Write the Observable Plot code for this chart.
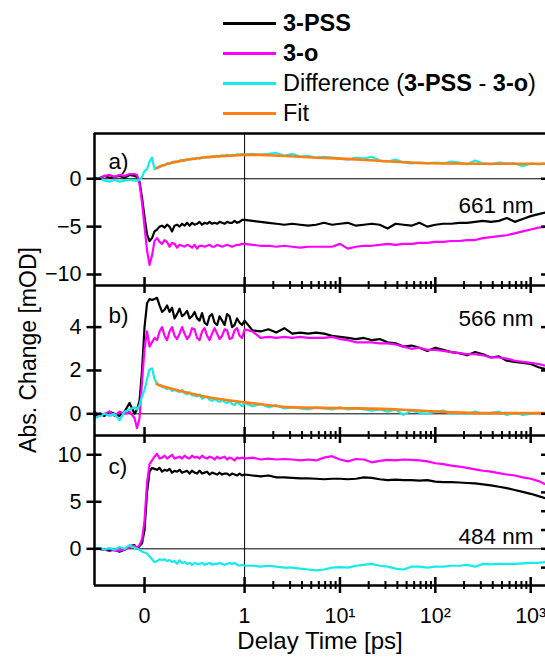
<!DOCTYPE html>
<html><head><meta charset="utf-8">
<script src="https://cdn.jsdelivr.net/npm/d3@7"></script>
<script src="https://cdn.jsdelivr.net/npm/@observablehq/plot@0.6"></script>
<style>
html,body{margin:0;padding:0;background:#fff;overflow:hidden}
#root{position:relative;width:545px;height:662px;overflow:hidden;font-family:"Liberation Sans",Arial,sans-serif;color:#000;background:#fff}
.row{position:absolute;left:223px;display:flex;align-items:center;height:30px;white-space:nowrap;font-size:23.5px}
.sw{width:53px;height:3px;margin-right:7px}
.panel{position:absolute;left:0}
#ylab{position:absolute;left:27.5px;top:350px;transform:translate(-50%,-50%) rotate(-90deg);font-size:23px;white-space:nowrap;line-height:1}
</style></head><body><div id="root"></div>
<script>
// ---------- data ----------
const linTimes = [-0.5,-0.45,-0.4,-0.35,-0.3,-0.25,-0.2,-0.15,-0.1,-0.075,-0.05,-0.025,0,0.025,0.05,0.075,0.1,0.125,0.15,0.175,0.2,0.225,0.25,0.275,0.3,0.325,0.35,0.375,0.4,0.425,0.45,0.475,0.5,0.525,0.55,0.575,0.6,0.625,0.65,0.675,0.7,0.725,0.75,0.775,0.8,0.825,0.85,0.875,0.9,0.925,0.95,0.975,1.0];
const logTimes = [1.21,1.47,1.78,2.15,2.61,3.16,3.83,4.64,5.62,6.81,8.25,10,12.1,14.7,17.8,21.5,26.1,31.6,38.3,46.4,56.2,68.1,82.5,100,121,147,178,215,261,316,383,464,562,681,825,1000,1210,1470,1780];

const a_pss = [0.1,0.0,0.3,0.1,0.2,0.3,0.1,0.4,0.3,0.2,-0.3,-2.0,-4.0,-5.8,-6.5,-6.2,-5.5,-5.3,-5.0,-4.9,-5.1,-4.8,-5.0,-5.5,-4.9,-4.8,-5.0,-4.7,-4.9,-4.6,-4.9,-4.6,-4.8,-4.7,-4.5,-4.8,-4.6,-4.7,-4.5,-4.7,-4.6,-4.7,-4.5,-4.6,-4.7,-4.5,-4.6,-4.6,-4.4,-4.6,-4.5,-4.3,-4.3,
  -4.4,-4.5,-4.6,-4.7,-4.8,-4.7,-4.8,-4.9,-4.8,-4.6,-4.8,-4.7,-4.6,-4.9,-4.8,-4.7,-4.8,-5.2,-4.7,-4.8,-4.9,-4.6,-5.0,-4.8,-4.7,-4.7,-4.6,-4.6,-4.5,-4.4,-4.5,-4.4,-4.1,-4.5,-4.2,-3.9,-3.7,-3.5,-3.4];
const a_o = [0.0,0.1,0.3,0.4,0.2,0.4,0.3,0.5,0.5,0.4,-0.5,-2.5,-5.0,-7.5,-9.0,-8.0,-6.5,-6.2,-6.6,-6.8,-6.4,-6.6,-7.1,-6.7,-6.8,-7.2,-6.9,-7.0,-7.1,-6.9,-7.0,-7.2,-6.9,-7.3,-7.0,-7.0,-7.1,-7.0,-6.9,-7.1,-7.1,-6.9,-7.0,-7.1,-7.0,-6.9,-7.0,-7.1,-7.0,-6.9,-6.9,-6.8,-6.8,
  -6.9,-7.0,-7.0,-7.1,-7.0,-7.1,-7.2,-7.1,-7.1,-7.1,-7.1,-6.8,-7.3,-7.1,-7.0,-7.0,-6.9,-6.8,-6.9,-6.8,-6.8,-6.7,-6.7,-6.6,-6.6,-6.5,-6.5,-6.4,-6.4,-6.2,-6.1,-6.0,-5.9,-5.7,-5.5,-5.3,-5.1,-5.0,-4.9];
const a_diff = [-0.1,0.1,-0.2,-0.3,-0.1,-0.3,-0.2,-0.1,-0.2,-0.2,-0.1,0.2,0.8,1.0,1.8,2.2,1.0,1.15,1.3,1.4,1.4,1.6,1.55,1.75,1.8,1.75,1.9,1.95,1.9,2.05,2.0,2.1,2.05,2.2,2.1,2.25,2.2,2.3,2.25,2.35,2.3,2.4,2.3,2.45,2.4,2.5,2.4,2.5,2.45,2.55,2.5,2.6,2.5,
  2.6,2.5,2.6,2.7,2.4,2.6,2.3,2.4,2.2,2.3,2.2,2.1,2.0,2.2,2.1,2.3,1.9,1.8,2.0,1.7,1.6,1.7,1.6,1.7,1.6,1.8,1.7,1.5,1.9,1.6,1.5,1.7,1.6,1.6,1.3,1.6,1.5,1.6,1.6];
const a_fitTimes = [0.12,0.2,0.3,0.4,0.5,0.6,0.8,1.0,1.5,2.4,5.2,12,27,59,133,300,700,1800];
const a_fit = [1.1,1.45,1.73,1.95,2.1,2.22,2.38,2.5,2.5,2.4,2.22,2.08,1.85,1.68,1.6,1.57,1.57,1.57];

const b_pss = [-0.1,0.0,-0.1,0.1,0.0,-0.1,0.1,0.5,0.0,0.2,0.6,2.0,4.0,5.1,5.3,5.25,5.3,5.35,5.0,4.7,4.8,5.0,4.7,4.9,4.4,4.6,4.85,4.5,4.6,4.75,4.4,4.5,4.7,4.4,4.3,4.65,4.2,4.1,4.5,4.6,4.2,4.1,4.5,4.3,4.1,4.6,4.5,4.0,4.1,4.4,4.2,4.1,4.3,
  3.85,3.8,3.9,3.75,3.95,3.7,3.75,3.7,3.75,3.7,3.6,3.55,3.5,3.45,3.5,3.4,3.45,3.3,3.25,3.1,3.15,3.05,2.9,3.05,2.95,2.85,2.8,2.7,2.85,2.75,2.6,2.65,2.45,2.4,2.35,2.3,2.15,2.05,2.0];
const b_o = [0.1,-0.1,0.0,0.1,-0.1,0.1,0.0,0.1,-0.2,-0.65,-0.2,1.5,3.0,3.8,3.1,3.3,3.5,3.4,3.8,4.0,3.6,3.4,3.8,4.0,3.6,3.45,3.7,4.0,3.7,3.45,3.6,3.95,3.9,3.5,3.4,3.8,3.95,3.6,3.4,3.7,3.95,3.7,3.45,3.6,3.9,3.85,3.45,3.5,3.85,3.95,3.6,3.5,3.9,
  3.8,3.5,3.55,3.5,3.55,3.5,3.55,3.5,3.5,3.5,3.55,3.45,3.4,3.3,3.3,3.3,3.25,3.25,3.2,3.1,3.0,3.05,2.95,2.95,2.9,2.85,2.8,2.75,2.75,2.7,2.6,2.6,2.55,2.45,2.4,2.35,2.3,2.2,2.15];
const b_diff = [-0.2,-0.1,0.0,-0.1,0.0,-0.3,0.1,0.2,0.3,0.2,0.4,0.8,1.1,1.6,2.05,2.1,1.6,1.4,1.3,1.25,1.2,1.15,1.2,1.05,1.1,1.05,1.0,1.1,0.95,0.9,1.0,0.85,0.85,0.8,0.9,0.7,0.75,0.8,0.65,0.6,0.7,0.6,0.55,0.65,0.55,0.5,0.6,0.45,0.4,0.55,0.45,0.35,0.5,
  0.35,0.45,0.3,0.4,0.25,0.3,0.25,0.2,0.3,0.25,0.2,0.3,0.2,0.25,0.2,0.15,0.2,0.1,0.2,-0.05,0.15,0.05,0.0,0.1,0.15,0.0,0.05,0.0,0.1,0.0,0.05,0.1,-0.05,0.05,-0.05,0.0,0.05,0.0,0.05];
const b_fitTimes = [0.12,0.2,0.3,0.4,0.5,0.6,0.8,1.0,1.5,2.9,12,40,133,300,1000,1800];
const b_fit = [1.38,1.25,1.12,1.01,0.9,0.8,0.65,0.53,0.44,0.31,0.26,0.2,0.08,0.03,0.03,0.03];

const c_pss = [0.0,0.0,-0.1,-0.2,-0.1,-0.3,-0.1,0.3,0.4,0.0,0.3,0.6,2.0,6.0,8.2,8.6,8.5,8.4,8.6,8.2,8.4,8.3,8.5,8.1,8.3,8.2,8.4,8.1,8.2,8.3,8.0,8.3,8.1,8.0,8.3,8.0,8.1,8.2,7.9,8.1,8.0,7.9,8.1,7.9,8.0,8.0,7.8,8.0,7.9,7.8,8.0,7.8,7.9,
  7.8,7.7,7.8,7.6,7.6,7.55,7.5,7.5,7.45,7.4,7.45,7.45,7.4,7.45,7.6,7.55,7.4,7.3,7.35,7.3,7.3,7.25,7.3,7.15,7.1,7.1,7.05,7.0,6.95,6.85,6.75,6.6,6.45,6.25,6.05,5.85,5.6,5.35,5.2];
const c_o = [0.0,0.0,-0.1,0.0,-0.2,-0.2,-0.1,0.2,0.3,0.1,0.4,1.0,3.0,7.0,9.0,9.4,9.8,10.1,9.6,9.7,9.9,9.6,9.8,10.0,9.6,9.7,9.8,9.6,9.9,9.7,9.6,9.9,9.7,9.8,9.6,9.9,9.7,9.6,9.8,9.7,9.5,9.8,9.6,9.7,9.8,9.5,9.7,9.6,9.4,9.7,9.6,9.7,9.6,
  9.7,9.5,9.6,9.5,9.55,9.5,9.4,9.5,9.4,9.7,9.85,9.5,9.3,9.55,9.5,9.2,9.35,9.45,9.4,9.5,9.45,9.4,9.3,9.1,9.0,8.85,8.75,8.6,8.45,8.3,8.2,8.05,7.9,7.8,7.6,7.45,7.2,6.8,6.6];
const c_diff = [0.0,0.1,-0.1,0.1,-0.1,0.2,0.0,0.4,0.1,0.0,-0.1,-0.3,-0.4,-0.5,-0.8,-1.1,-1.4,-1.3,-1.1,-1.2,-1.1,-1.3,-1.2,-1.4,-1.3,-1.6,-1.2,-1.5,-1.4,-1.6,-1.5,-1.7,-1.5,-1.6,-1.6,-1.5,-1.7,-1.6,-1.5,-1.7,-1.6,-1.6,-1.5,-1.6,-1.7,-1.6,-1.5,-1.6,-1.5,-1.7,-1.8,-1.7,-1.8,
  -1.8,-1.9,-1.8,-1.9,-2.0,-2.0,-2.1,-2.2,-2.3,-2.2,-2.0,-1.95,-2.0,-1.8,-1.7,-1.6,-1.8,-1.9,-2.1,-2.2,-1.9,-1.9,-2.0,-1.9,-1.9,-1.8,-1.8,-1.7,-1.9,-1.6,-1.65,-1.6,-1.6,-1.6,-1.55,-1.5,-1.5,-1.4,-1.4];

const majorTicks = [0, 1, 10, 100, 1000];
const majorLabels = ["0", "1", "10¹", "10²", "10³"];
const minorTicks = [2,3,4,5,6,7,8,9,20,30,40,50,60,70,80,90,200,300,400,500,600,700,800,900];

const seriesNames = ["3-PSS", "3-o", "Difference", "Fit"];
const seriesColors = ["#000000", "#ff00ff", "#14ecec", "#ff8010"];

// ---------- helpers ----------
const times = linTimes.concat(logTimes);
// linear up to 1 ps, logarithmic beyond
const warp = t => t <= 1 ? t : 1 + 0.953 * Math.log10(t);
const xDomain = [-0.5, 4.007];
const rows = arr => times.map((t, i) => ({t, v: arr[i]}));
const fitRows = (ts, vs) => ts.map((t, i) => ({t, v: vs[i]}));

const root = document.getElementById("root");

// legend
const legendItems = [
  {html: "<b>3-PSS</b>", color: seriesColors[0], top: 8},
  {html: "<b>3-o</b>", color: seriesColors[1], top: 38},
  {html: "Difference (<b>3-PSS</b> - <b>3-o</b>)", color: seriesColors[2], top: 68},
  {html: "Fit", color: seriesColors[3], top: 98}
];
for (const it of legendItems) {
  const r = document.createElement("div");
  r.className = "row";
  r.style.top = it.top + "px";
  r.innerHTML = `<div class="sw" style="background:${it.color}"></div><span>${it.html}</span>`;
  root.appendChild(r);
}
const yl = document.createElement("div");
yl.id = "ylab";
yl.textContent = "Abs. Change [mOD]";
root.appendChild(yl);

function panel(cfg) {
  const lineOpts = (c, w) => ({x: d => warp(d.t), y: "v", stroke: c, strokeWidth: w});
  const marks = [
    Plot.ruleY([0], {stroke: "#000", strokeWidth: 1}),
    Plot.ruleX([1], {x: d => warp(d), stroke: "#000", strokeWidth: 1}),
    Plot.line(rows(cfg.pss), lineOpts(seriesColors[0], 2.2)),
    Plot.line(rows(cfg.o), lineOpts(seriesColors[1], 2.2)),
    Plot.line(rows(cfg.diff), lineOpts(seriesColors[2], 2.2)),
    cfg.fit ? Plot.line(cfg.fit, {...lineOpts(seriesColors[3], 2.6), curve: "monotone-x"}) : null,
    Plot.ruleX([xDomain[0]], {stroke: "#000", strokeWidth: 2.5}),
    Plot.ruleY([cfg.yDomain[0]], {stroke: "#000", strokeWidth: 2.5}),
    cfg.top ? Plot.ruleY([cfg.yDomain[1]], {stroke: "#000", strokeWidth: 2.5}) : null,
    Plot.axisY(cfg.leftTicks, {anchor: "left", tickSize: 15, dx: 7.5, fill: "none", strokeWidth: 2.5, label: null}),
    Plot.axisY(cfg.leftTicks, {anchor: "left", tickSize: 0, tickPadding: 13, label: null, fontSize: 21.5}),
    Plot.axisY(cfg.rightTicks, {anchor: "right", tickSize: 16, dx: -5, fill: "none", strokeWidth: 2.5, label: null}),
    Plot.axisX(majorTicks.map(warp), {anchor: "bottom", tickSize: 16, dy: -8, fill: "none", strokeWidth: 2.5, label: null}),
    Plot.axisX(minorTicks.map(warp), {anchor: "bottom", tickSize: 8, dy: -4, fill: "none", strokeWidth: 2, label: null}),
    cfg.bottom ? Plot.axisX(majorTicks.map(warp), {anchor: "bottom", tickSize: 0, tickPadding: 22, label: null, fontSize: 21.5,
      tickFormat: u => majorLabels[majorTicks.findIndex(t => Math.abs(warp(t) - u) < 1e-9)]}) : null,
    cfg.bottom ? Plot.text(["Delay Time [ps]"], {text: d => d, frameAnchor: "bottom", dy: 63, fontSize: 24}) : null,
    Plot.text([cfg.letter], {text: d => d, frameAnchor: "top-left", dx: 14, dy: cfg.letterDy, textAnchor: "start", fontSize: 22.5}),
    Plot.text([cfg.nm], {text: d => d, frameAnchor: "top-right", dx: -12, dy: cfg.nmDy, textAnchor: "end", fontSize: 22.5})
  ];
  const svg = Plot.plot({
    width: 545, height: cfg.height,
    marginLeft: 94, marginRight: 0, marginTop: 8, marginBottom: cfg.mb,
    x: {type: "linear", domain: xDomain, axis: null, label: null},
    y: {domain: cfg.yDomain, axis: null, label: null},
    style: {background: "transparent", overflow: "visible", fontFamily: "'Liberation Sans', Arial, sans-serif", fontSize: "21px", color: "#000"},
    marks
  });
  svg.classList.add("panel");
  svg.style.position = "absolute";
  svg.style.left = "0px";
  svg.style.top = cfg.svgTop + "px";
  root.appendChild(svg);
}

panel({svgTop: 125, height: 170, mb: 10, yDomain: [-11.15, 4.73], pss: a_pss, o: a_o, diff: a_diff,
  fit: fitRows(a_fitTimes, a_fit), leftTicks: [-10, -5, 0], rightTicks: [-10, -5, 0],
  letter: "a)", letterDy: 20, nm: "661 nm", nmDy: 64, top: true});
panel({svgTop: 277, height: 168, mb: 10, yDomain: [-1.0, 5.92], pss: b_pss, o: b_o, diff: b_diff,
  fit: fitRows(b_fitTimes, b_fit), leftTicks: [0, 2, 4], rightTicks: [0, 2, 4],
  letter: "b)", letterDy: 22, nm: "566 nm", nmDy: 25});
panel({svgTop: 427, height: 235, mb: 77, yDomain: [-3.9, 12.05], pss: c_pss, o: c_o, diff: c_diff,
  fit: null, leftTicks: [0, 5, 10], rightTicks: [-2, 0, 2, 4, 6, 8, 10],
  letter: "c)", letterDy: 23, nm: "484 nm", nmDy: 93, bottom: true});
</script></body></html>
